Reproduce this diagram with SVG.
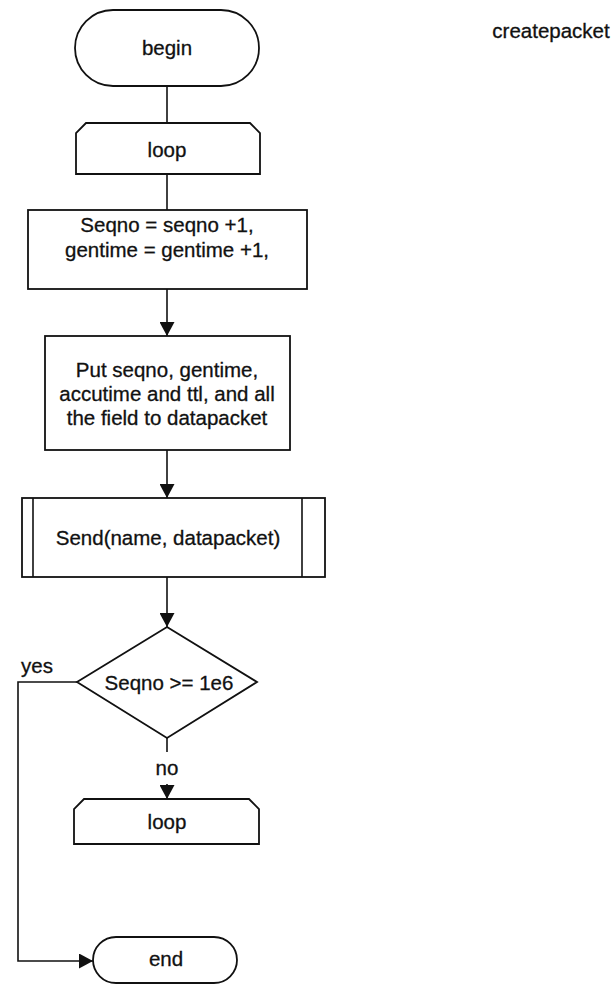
<svg xmlns="http://www.w3.org/2000/svg" width="616" height="985" viewBox="0 0 616 985">
  <style>
    .shape { fill: #ffffff; stroke: #111111; stroke-width: 1.8; }
    .wire { fill: none; stroke: #111111; stroke-width: 1.6; }
    .label { font-family: "Liberation Sans", Arial, sans-serif; font-size: 20.5px; fill: #111111; stroke: #111111; stroke-width: 0.3; text-anchor: middle; }
  </style>
  <defs>
    <marker id="arrow" viewBox="0 0 14 15" refX="14" refY="7.5" markerWidth="14" markerHeight="15" markerUnits="userSpaceOnUse" orient="auto">
      <path d="M0,0 L14,7.5 L0,15 Z" fill="#111111"/>
    </marker>
  </defs>
  <rect width="616" height="985" fill="#ffffff"/>

  <text class="label" x="551" y="38">createpacket</text>

  <!-- connectors -->
  <g id="connectors">
    <line class="wire" x1="167" y1="86" x2="167" y2="123"/>
    <line class="wire" x1="167" y1="174" x2="167" y2="210"/>
    <line class="wire" x1="167" y1="289" x2="167" y2="336" marker-end="url(#arrow)"/>
    <line class="wire" x1="167" y1="450" x2="167" y2="498" marker-end="url(#arrow)"/>
    <line class="wire" x1="167" y1="577" x2="167" y2="627" marker-end="url(#arrow)"/>
    <line class="wire" x1="167" y1="738" x2="167" y2="752"/>
    <line class="wire" x1="167" y1="784" x2="167" y2="799" marker-end="url(#arrow)"/>
    <polyline class="wire" points="77,682 18,682 18,961 93,961" marker-end="url(#arrow)"/>
    <text class="label" x="37" y="673">yes</text>
    <text class="label" x="167" y="775">no</text>
  </g>

  <g id="begin">
    <rect class="shape" x="75" y="10" width="184" height="76" rx="38" ry="38"/>
    <text class="label" x="167" y="55">begin</text>
  </g>

  <g id="loop-start">
    <path class="shape" d="M76,174 L76,133 L86,123 L250,123 L260,133 L260,174 Z"/>
    <text class="label" x="167" y="157">loop</text>
  </g>

  <g id="increment">
    <rect class="shape" x="28" y="210" width="279" height="79"/>
    <text class="label" x="167" y="232">Seqno = seqno +1,</text>
    <text class="label" x="167" y="257">gentime = gentime +1,</text>
  </g>

  <g id="fill-packet">
    <rect class="shape" x="45" y="336" width="245" height="114"/>
    <text class="label" x="167" y="377">Put seqno, gentime,</text>
    <text class="label" x="167" y="401">accutime and ttl, and all</text>
    <text class="label" x="167" y="425">the field to datapacket</text>
  </g>

  <g id="send">
    <rect class="shape" x="22" y="498" width="303" height="79"/>
    <line class="wire" x1="33" y1="498" x2="33" y2="577"/>
    <line class="wire" x1="302" y1="498" x2="302" y2="577"/>
    <text class="label" x="168" y="545">Send(name, datapacket)</text>
  </g>

  <g id="check">
    <polygon class="shape" points="167,627 257,682 167,738 77,682"/>
    <text class="label" x="169" y="690">Seqno &gt;= 1e6</text>
  </g>

  <g id="loop-end">
    <path class="shape" d="M74,844 L74,809 L84,799 L249,799 L259,809 L259,844 Z"/>
    <text class="label" x="167" y="829">loop</text>
  </g>

  <g id="end">
    <rect class="shape" x="93" y="937" width="144" height="46" rx="23" ry="23"/>
    <text class="label" x="166" y="966">end</text>
  </g>
</svg>
